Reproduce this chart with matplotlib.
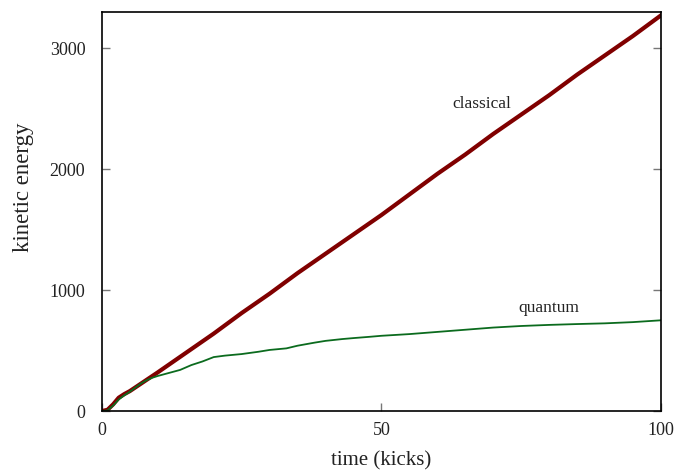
import matplotlib
matplotlib.use("Agg")
import matplotlib.pyplot as plt

# kinetic energy vs. number of kicks
t_classical = [0, 1, 2, 3, 4, 5, 10, 15, 20, 25, 30, 35, 40, 45, 50,
               55, 60, 65, 70, 75, 80, 85, 90, 95, 100]
e_classical = [0, 10, 55, 110, 140, 165, 320, 480, 640, 810, 970, 1140, 1300, 1460, 1620,
               1790, 1960, 2120, 2290, 2450, 2610, 2780, 2940, 3100, 3270]

t_quantum = [0, 1, 2, 3, 4, 5, 6, 7, 8, 9, 10, 12, 14, 16, 18, 20, 22, 25, 28, 30,
             33, 35, 38, 40, 43, 45, 48, 50, 55, 60, 65, 70, 75, 80, 85, 90, 95, 100]
e_quantum = [0, 5, 45, 95, 130, 160, 195, 228, 255, 275, 290, 315, 340, 380, 410, 446, 458, 471, 490, 505,
             518, 540, 565, 580, 595, 603, 614, 622, 636, 654, 672, 690, 703, 712, 719, 725, 735, 750]

plt.rcParams['font.family'] = ['Liberation Serif', 'DejaVu Serif']

fig = plt.figure(figsize=(6.75, 4.73), dpi=100)
ax = fig.add_axes([0.151, 0.131, 0.828, 0.844])

ax.plot(t_classical, e_classical, color='#800000', lw=3)
ax.plot(t_quantum, e_quantum, color='#0b6b1e', lw=1.3)

ax.text(68, 2540, 'classical', fontsize=12.5, ha='center', va='center', color='#222222')
ax.text(80, 850, 'quantum', fontsize=12.5, ha='center', va='center', color='#222222')

ax.set_xlim(0, 100)
ax.set_ylim(0, 3300)
ax.set_xticks([0, 50, 100])
ax.set_yticks([0, 1000, 2000, 3000])

ax.tick_params(direction='in', length=6, width=1, color='#777777',
               labelsize=13, labelcolor='#222222', right=True)
ax.tick_params(axis='y', pad=12)
ax.tick_params(axis='x', pad=8)
for s in ax.spines.values():
    s.set_linewidth(1.2)

ax.set_xlabel('time (kicks)', fontsize=15, color='#222222', labelpad=9)
ax.set_ylabel('kinetic energy', fontsize=16.5, color='#222222')
ax.yaxis.set_label_coords(-0.121, 0.56)

fig.savefig('out.png', dpi=100)
